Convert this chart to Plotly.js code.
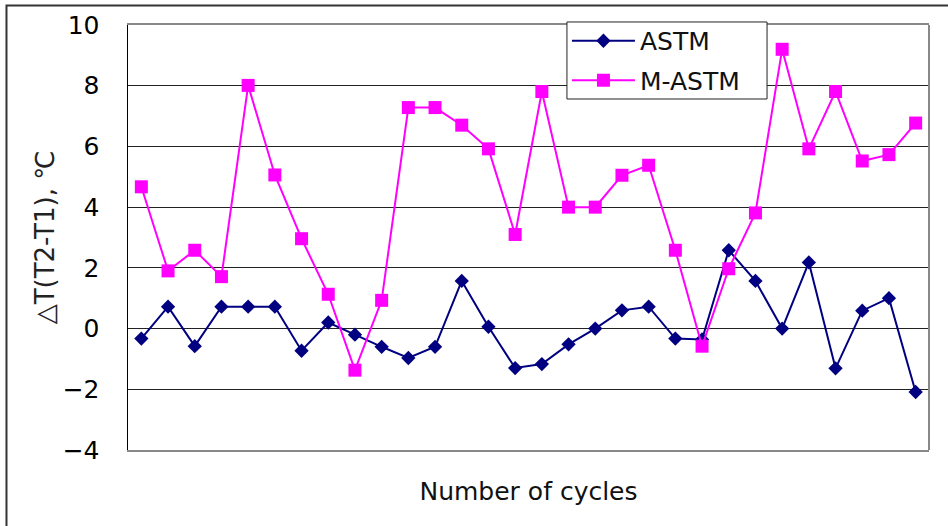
<!DOCTYPE html>
<html>
<head>
<meta charset="utf-8">
<script src="https://cdn.plot.ly/plotly-3.0.1.min.js"></script>
<style>html,body{margin:0;padding:0;background:#fff;}#chart{width:948px;height:526px;}</style>
</head>
<body>
<div id="chart"></div>
<script>
const cycles = [1,2,3,4,5,6,7,8,9,10,11,12,13,14,15,16,17,18,19,20,21,22,23,24,25,26,27,28,29,30];
const astm = [-0.33,0.72,-0.58,0.72,0.72,0.72,-0.73,0.2,-0.2,-0.6,-0.97,-0.6,1.57,0.06,-1.3,-1.17,-0.52,0.0,0.6,0.72,-0.33,-0.36,2.58,1.57,0.0,2.18,-1.31,0.59,1.0,-2.09];
const mastm = [4.67,1.9,2.58,1.71,8.01,5.06,2.96,1.13,-1.37,0.93,7.28,7.28,6.7,5.92,3.1,7.81,4.0,4.0,5.05,5.38,2.58,-0.58,1.97,3.81,9.2,5.92,7.81,5.52,5.73,6.77];
const seriesNames = ['ASTM','M-ASTM'];
const yTickVals = [-4,-2,0,2,4,6,8,10];

const FONT = 'DejaVu Sans, Arial, sans-serif';

const traces = [
  {x: cycles, y: astm, name: seriesNames[0], type: 'scatter', mode: 'lines+markers',
   line: {color: '#000080', width: 2}, marker: {symbol: 'diamond', size: 11, color: '#000080'}, legendgroup: 'a'},
  {x: cycles, y: mastm, name: seriesNames[1], type: 'scatter', mode: 'lines+markers',
   line: {color: '#FF00FF', width: 2}, marker: {symbol: 'square', size: 13, color: '#FF00FF'}, legendgroup: 'b'}
];

const layout = {
  width: 948, height: 526,
  margin: {l: 128, r: 19, t: 25, b: 76, pad: 0},
  paper_bgcolor: '#fff', plot_bgcolor: '#fff',
  font: {family: FONT, size: 25, color: '#000'},
  showlegend: true,
  legend: {x: 0.548, y: 1.0165, xanchor: 'left', yanchor: 'top', bgcolor: 'rgba(0,0,0,0)',
           borderwidth: 0, font: {family: FONT, size: 25, color: '#111'},
           tracegroupgap: 4, itemwidth: 63},
  xaxis: {type: 'category', range: [-0.5, 29.5], showticklabels: false, ticks: '',
          showgrid: false, zeroline: false, showline: true, linecolor: '#888', linewidth: 2, mirror: true,
          title: {text: 'Number of cycles', font: {family: FONT, size: 25, color: '#111'}, standoff: 31}},
  yaxis: {range: [-4, 10], tickvals: yTickVals, ticks: 'outside', ticklen: 22, tickcolor: 'rgba(0,0,0,0)',
          showgrid: true, gridcolor: '#222', gridwidth: 1, zeroline: false,
          showline: true, linecolor: '#000', linewidth: 1.5,
          tickfont: {family: FONT, size: 25, color: '#000'},
          title: {text: '△T(T2-T1), ℃', font: {family: FONT, size: 26, color: '#222'}, standoff: 0}},
  shapes: [
    {type: 'line', xref: 'paper', yref: 'paper', x0: 1, x1: 1, y0: 0, y1: 1, line: {color: '#888', width: 2}},
    {type: 'rect', xref: 'paper', yref: 'paper', x0: -0.1517, x1: 1.06, y0: -0.25, y1: 1.0459,
     line: {color: '#333', width: 2}, fillcolor: 'rgba(0,0,0,0)'},
    {type: 'rect', xref: 'paper', yref: 'paper', layer: 'above', x0: 0.548, x1: 0.7978, y0: 0.8259, y1: 1.0071,
     line: {color: '#222', width: 1}, fillcolor: '#fff'}
  ]
};

Plotly.newPlot('chart', traces, layout, {displayModeBar: false, staticPlot: true});
</script>
</body>
</html>
